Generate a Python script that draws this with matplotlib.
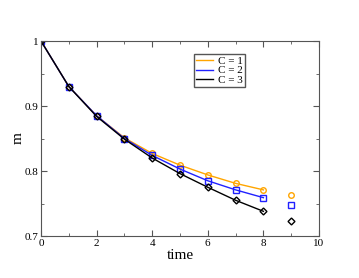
import numpy as np
import matplotlib
matplotlib.use('Agg')
import matplotlib.pyplot as plt
from matplotlib.ticker import MultipleLocator

plt.rcParams['font.family'] = ['Liberation Serif', 'DejaVu Serif']

# time steps joined by lines, plus one extra point at t = 9
t = [0, 1, 2, 3, 4, 5, 6, 7, 8]
t_extra = [9]

m_c1 = [1.0, 0.930, 0.885, 0.851, 0.827, 0.809, 0.794, 0.781, 0.771]
m_c2 = [1.0, 0.930, 0.885, 0.850, 0.824, 0.803, 0.785, 0.771, 0.759]
m_c3 = [1.0, 0.930, 0.884, 0.849, 0.820, 0.796, 0.775, 0.755, 0.738]
m_extra = [0.763, 0.748, 0.723]

labels = ['C = 1', 'C = 2', 'C = 3']
colors = ['#ffa500', '#2020ff', '#000000']
markers = ['o', 's', 'D']

fig = plt.figure(figsize=(3.59, 2.78), dpi=100)
ax = fig.add_axes([0.1142, 0.151, 0.7744, 0.7015])

for ys, ye, lab, c, mk in zip([m_c1, m_c2, m_c3], m_extra, labels, colors, markers):
    ms = 3.5 if mk == 'D' else 4
    ax.plot(t, ys, color=c, lw=1, label=lab, marker=mk, ms=ms, mfc='none', mew=1)
    ax.plot(t_extra, [ye], color=c, ls='none', marker=mk, ms=ms, mfc='none', mew=1)

ax.set_xlim(0, 10)
ax.set_ylim(0.7, 1.0)
ax.xaxis.set_major_locator(MultipleLocator(2))
ax.xaxis.set_minor_locator(MultipleLocator(1))
ax.yaxis.set_minor_locator(MultipleLocator(0.05))
ax.set_yticks([0.7, 0.8, 0.9, 1.0])
ax.set_yticklabels(['0.7', '0.8', '0.9', '1'])
ax.tick_params(which='both', direction='in', top=True, right=True, labelsize=8,
               color='#555555', pad=2)
ax.tick_params(which='major', length=4)
ax.tick_params(which='minor', length=2)
for s in ax.spines.values():
    s.set_color('#555555')

ax.set_xlabel('time', fontsize=11, labelpad=1)
ax.set_ylabel('m', fontsize=11, labelpad=0)

leg = ax.legend(loc='upper left', bbox_to_anchor=(0.55, 0.935), fontsize=8,
                handlelength=1.5, handletextpad=0.5, borderpad=0.2,
                labelspacing=0.0, fancybox=False, framealpha=1, borderaxespad=0)
leg.get_frame().set_edgecolor('#555555')
for h in leg.get_lines():
    h.set_marker('')

fig.savefig('out.png', dpi=100)
